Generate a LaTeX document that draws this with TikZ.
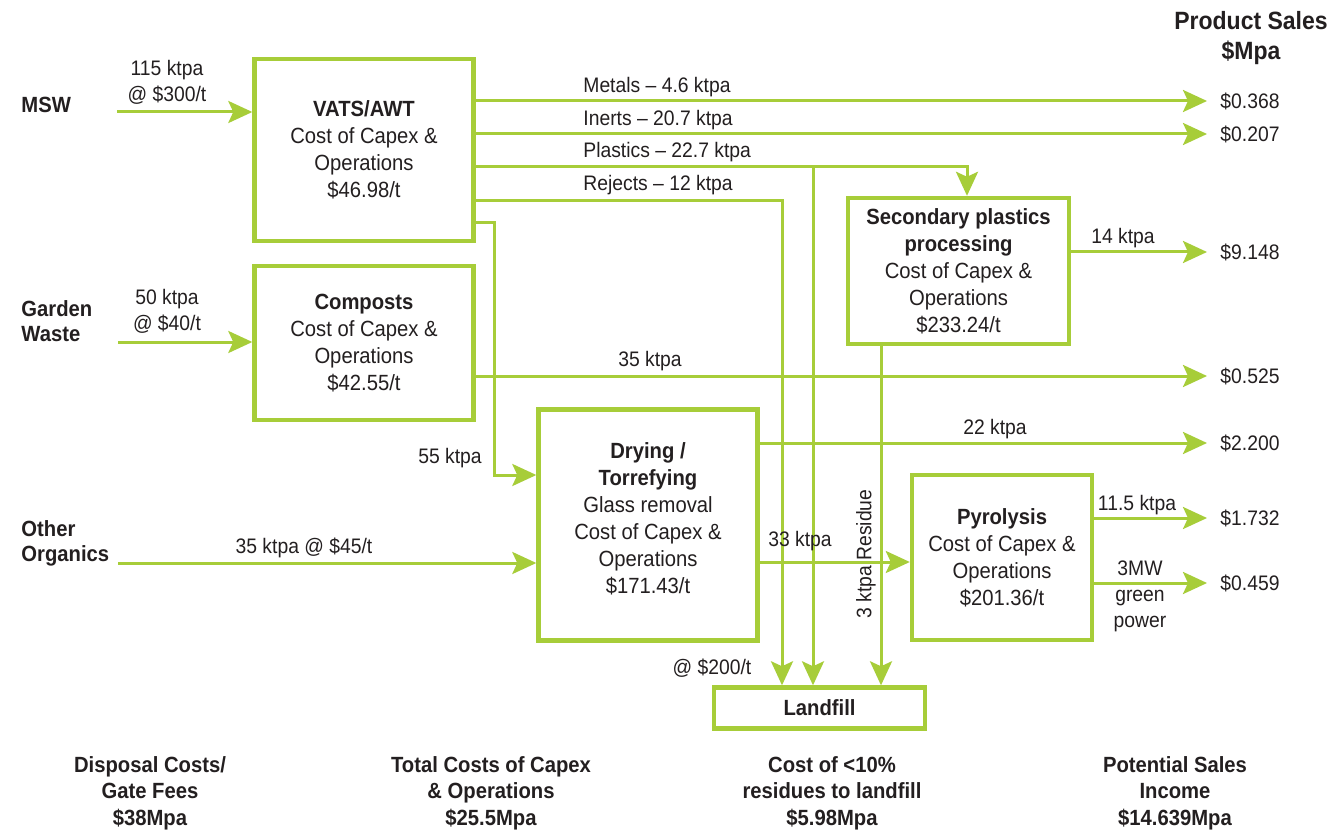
\documentclass[tikz,border=0pt]{standalone}
\usepackage{fontspec}
\setmainfont{Liberation Sans}[FakeStretch=0.92]
\usetikzlibrary{arrows.meta}
\definecolor{lime}{RGB}{167,205,57}
\definecolor{ink}{RGB}{35,31,32}
\newcommand{\myfs}[2]{\fontsize{#1pt}{#2pt}\selectfont}
\begin{document}
\begin{tikzpicture}[x=0.5pt,y=-0.5pt,
  box/.style={draw=lime, line width=2.2pt, align=center, text=ink, font=\myfs{11}{13.5}, inner sep=0pt},
  boxtext/.style={align=center, text=ink, font=\myfs{11}{13.5}, inner sep=0pt},
  arr/.style={draw=lime, line width=1.5pt, -{Stealth[length=12pt,width=11pt,inset=2.5pt]}},
  lab/.style={text=ink, font=\myfs{10.5}{13}, inner sep=0pt, align=center},
  val/.style={lab, anchor=west},
  src/.style={text=ink, font=\bfseries\myfs{11}{12.5}, inner sep=0pt, align=left, anchor=west},
  hd/.style={text=ink, font=\bfseries\myfs{11}{13.25}, align=center, inner sep=0pt}]
\path[use as bounding box, fill=white] (0,0) rectangle (1328,834);

% boxes
\node[box, minimum width=109.5pt, minimum height=91pt] (vats) at (364,150)
  {\textbf{VATS/AWT}\\Cost of Capex \&\\Operations\\\$46.98/t};
\node[box, minimum width=109.5pt, minimum height=77pt] (comp) at (364,343)
  {\textbf{Composts}\\Cost of Capex \&\\Operations\\\$42.55/t};
\node[box, minimum width=109.5pt, minimum height=115.5pt] (dry) at (648,525) {};
\node[boxtext] (drytxt) at (648,519)
  {\textbf{Drying /}\\\textbf{Torrefying}\\Glass removal\\Cost of Capex \&\\Operations\\\$171.43/t};
\node[box, minimum width=110.5pt, minimum height=73pt] (sec) at (958.5,271)
  {\textbf{Secondary plastics}\\\textbf{processing}\\Cost of Capex \&\\Operations\\\$233.24/t};
\node[box, minimum width=90pt, minimum height=82.5pt] (pyr) at (1002,557.5)
  {\textbf{Pyrolysis}\\Cost of Capex \&\\Operations\\\$201.36/t};
\node[box, minimum width=105.5pt, minimum height=20.5pt] (land) at (819.5,708)
  {\textbf{Landfill}};

% sources
\node[src] (msw) at (21,105) {MSW};
\node[src] (gw) at (21,321.5) {Garden\\Waste};
\node[src] (oo) at (21,543) {Other\\Organics};

% values
\node[text=ink, font=\bfseries\myfs{12.5}{15}, align=center, inner sep=0pt] (ps) at (1251,38) {Product Sales\\\$Mpa};
\node[val] (v1) at (1220,101) {\$0.368};
\node[val] (v2) at (1220,134) {\$0.207};
\node[val] (v9) at (1220,252) {\$9.148};
\node[val] (v525) at (1220,376) {\$0.525};
\node[val] (v2200) at (1220,443) {\$2.200};
\node[val] (v1732) at (1220,518) {\$1.732};
\node[val] (v459) at (1220,583) {\$0.459};

% inputs
\coordinate (msw0) at (117,112);
\coordinate (gw0) at (118,342);
\coordinate (oo0) at (118,563);
\draw[arr] (msw0) -- (vats.west |- msw0);
\draw[arr] (gw0) -- (comp.west |- gw0);
\draw[arr] (oo0) -- (dry.west |- oo0);

% VATS outputs
\draw[arr, shorten >=6.5pt] (vats.east |- v1) -- (v1.west);
\draw[arr, shorten >=6.5pt] (vats.east |- v2) -- (v2.west);
\coordinate (plj) at (813,167);
\coordinate (plt) at (967,167);
\draw[arr] (vats.east |- plj) -- (plt) -- (plt |- sec.north);
\draw[arr] (plj) -- (plj |- land.north);
\coordinate (rej) at (782,201);
\draw[arr] (vats.east |- rej) -- (rej) -- (rej |- land.north);
\coordinate (d1) at (494,223);
\coordinate (d2) at (494,475);
\draw[arr] (vats.east |- d1) -- (d1) -- (d2) -- (dry.west |- d2);

% other flows
\draw[arr, shorten >=6.5pt] (comp.east |- v525) -- (v525.west);
\draw[arr, shorten >=6.5pt] (dry.east |- v2200) -- (v2200.west);
\coordinate (c33) at (835,562);
\draw[arr] (dry.east |- c33) -- (pyr.west |- c33);
\draw[arr, shorten >=6.5pt] (sec.east |- v9) -- (v9.west);
\coordinate (resx) at (881,400);
\draw[arr] (sec.south -| resx) -- (land.north -| resx);
\draw[arr, shorten >=6.5pt] (pyr.east |- v1732) -- (v1732.west);
\draw[arr, shorten >=6.5pt] (pyr.east |- v459) -- (v459.west);

% labels
\node[lab] (l115) at (167,82) {115 ktpa\\@ \$300/t};
\node[lab] (l50) at (167,311) {50 ktpa\\@ \$40/t};
\node[lab] (l35b) at (304,548) {35 ktpa @ \$45/t};
\node[lab] (l55) at (450,458) {55 ktpa};
\node[lab, anchor=west] (lmet) at (583,87) {Metals -- 4.6 ktpa};
\node[lab, anchor=west] (linr) at (583,120) {Inerts -- 20.7 ktpa};
\node[lab, anchor=west] (lpla) at (583,152) {Plastics -- 22.7 ktpa};
\node[lab, anchor=west] (lrej) at (583,185) {Rejects -- 12 ktpa};
\node[lab] (l35) at (650,361) {35 ktpa};
\node[lab] (l22) at (995,429) {22 ktpa};
\node[lab] (l33) at (800,541) {33 ktpa};
\node[lab, rotate=90] (lres) at (866,554) {3 ktpa Residue};
\node[lab] (l200) at (712,668) {@ \$200/t};
\node[lab] (l14) at (1123,238) {14 ktpa};
\node[lab] (l115b) at (1137,505) {11.5 ktpa};
\node[lab] (l3mw) at (1140,596) {3MW\\green\\power};

% footer
\node[hd] (f1) at (150,793) {Disposal Costs/\\Gate Fees\\\$38Mpa};
\node[hd] (f2) at (491,793) {Total Costs of Capex\\\& Operations\\\$25.5Mpa};
\node[hd] (f3) at (832,793) {Cost of <10\%\\residues to landfill\\\$5.98Mpa};
\node[hd] (f4) at (1175,793) {Potential Sales\\Income\\\$14.639Mpa};
\end{tikzpicture}
\end{document}
